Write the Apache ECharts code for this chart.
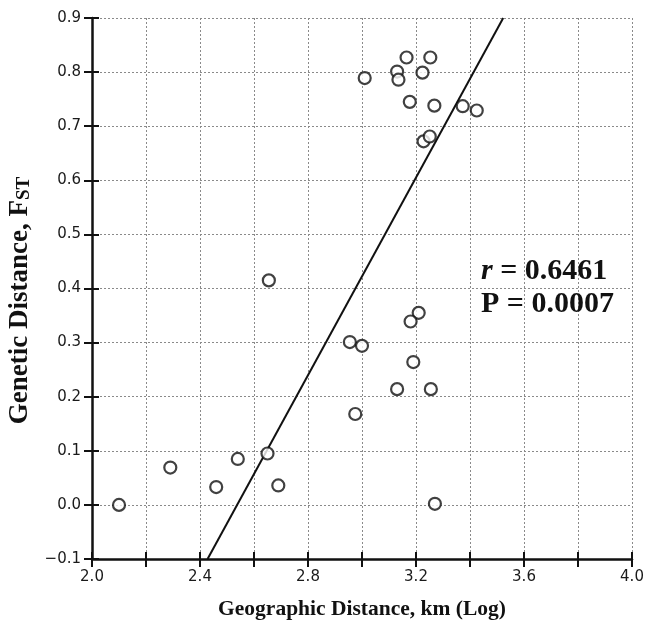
<!DOCTYPE html>
<html>
<head>
<meta charset="utf-8">
<script src="https://cdn.jsdelivr.net/npm/echarts@6/dist/echarts.min.js"></script>
<style>
  html, body { margin: 0; padding: 0; background: #fff; }
  #chart { width: 646px; height: 620px; }
</style>
</head>
<body>
<div id="chart"></div>
<script>
// Geographic distance (log km) vs genetic distance (FST)
const geoDistance = [
  2.10, 2.29, 2.46, 2.54, 2.65, 2.69, 2.655,
  3.21, 3.18, 2.955, 3.00, 3.19, 3.13, 3.255, 2.975, 3.27,
  3.165, 3.253, 3.01, 3.13, 3.135, 3.224, 3.177, 3.268, 3.373, 3.425, 3.228, 3.251
];
const geneticDistance = [
  0.000, 0.069, 0.033, 0.085, 0.095, 0.036, 0.415,
  0.355, 0.339, 0.301, 0.294, 0.264, 0.214, 0.214, 0.168, 0.002,
  0.827, 0.827, 0.789, 0.801, 0.786, 0.799, 0.745, 0.738, 0.737, 0.729, 0.672, 0.681
];
// Regression line end points (x, y)
const fitX = [2.428, 3.523];
const fitY = [-0.1, 0.9];

const statR = '0.6461';
const statP = '0.0007';

const points = geoDistance.map((x, i) => [x, geneticDistance[i]]);
const fitLine = fitX.map((x, i) => [x, fitY[i]]);

const chart = echarts.init(document.getElementById('chart'), null, { renderer: 'canvas' });

const serif = '"Liberation Serif", "Times New Roman", serif';
const sans = '"DejaVu Sans", Arial, Helvetica, sans-serif';
const gridLine = { show: true, lineStyle: { color: '#8a8a8a', type: [2, 2], width: 1 } };

chart.setOption({
  animation: false,
  backgroundColor: '#ffffff',
  grid: { left: 92, right: 14, top: 18, bottom: 61, containLabel: false, outerBoundsMode: 'none' },
  xAxis: [
    {
      type: 'value', min: 2.0, max: 4.0, interval: 0.2,
      name: 'Geographic Distance, km (Log)',
      nameLocation: 'middle', nameGap: 39,
      nameTextStyle: { fontFamily: serif, fontWeight: 'bold', fontSize: 21.5, color: '#111' },
      axisLine: { show: true, onZero: false, lineStyle: { color: '#111', width: 2.5 } },
      axisTick: { show: true, length: 8, lineStyle: { color: '#111', width: 2 } },
      axisLabel: {
        fontFamily: sans, fontSize: 15, color: '#1a1a1a', margin: 11,
        formatter: v => (Math.round(v * 10) % 4 === 0 ? v.toFixed(1) : '')
      },
      splitLine: gridLine
    },
    {
      type: 'value', min: 2.0, max: 4.0, interval: 0.2, position: 'bottom',
      axisLine: { show: false, onZero: false },
      axisTick: { show: true, inside: true, length: 7, lineStyle: { color: '#111', width: 2 } },
      axisLabel: { show: false }, splitLine: { show: false }
    }
  ],
  yAxis: [
    {
      type: 'value', min: -0.1, max: 0.9, interval: 0.1,
      name: '{a|Genetic Distance, F}{b|ST}',
      nameLocation: 'middle', nameGap: 51, nameRotate: 90,
      nameTextStyle: {
        padding: [0, 24, 0, 0],
        rich: {
          a: { fontFamily: serif, fontWeight: 'bold', fontSize: 27, color: '#111', verticalAlign: 'bottom' },
          b: { fontFamily: serif, fontWeight: 'bold', fontSize: 19, color: '#111', verticalAlign: 'bottom' }
        }
      },
      axisLine: { show: true, onZero: false, lineStyle: { color: '#111', width: 2.5 } },
      axisTick: { show: true, length: 8, lineStyle: { color: '#111', width: 2 } },
      axisLabel: {
        fontFamily: sans, fontSize: 15, color: '#1a1a1a', margin: 11,
        formatter: v => (v < 0 ? '\u2212' + Math.abs(v).toFixed(1) : v.toFixed(1))
      },
      splitLine: gridLine
    },
    {
      type: 'value', min: -0.1, max: 0.9, interval: 0.1, position: 'left',
      axisLine: { show: false, onZero: false },
      axisTick: { show: true, inside: true, length: 7, lineStyle: { color: '#111', width: 2 } },
      axisLabel: { show: false }, splitLine: { show: false }
    }
  ],
  graphic: [
    {
      type: 'text', left: 481, top: 255,
      style: {
        text: '{i|r} = ' + statR + '\n' + 'P = ' + statP,
        fontFamily: serif, fontWeight: 'bold', fontSize: 30, fill: '#111', lineHeight: 33,
        rich: {
          i: { fontFamily: serif, fontWeight: 'bold', fontStyle: 'italic', fontSize: 30, fill: '#111' }
        }
      },
      z: 10
    }
  ],
  series: [
    {
      type: 'line', data: fitLine, xAxisIndex: 0, yAxisIndex: 0,
      symbol: 'none', lineStyle: { color: '#111', width: 2 }, z: 3, silent: true
    },
    {
      type: 'scatter', data: points, xAxisIndex: 0, yAxisIndex: 0,
      symbol: 'circle', symbolSize: 12,
      itemStyle: { color: '#ffffff', borderColor: '#111', borderWidth: 2.2 }, z: 4
    }
  ]
});
</script>
</body>
</html>
